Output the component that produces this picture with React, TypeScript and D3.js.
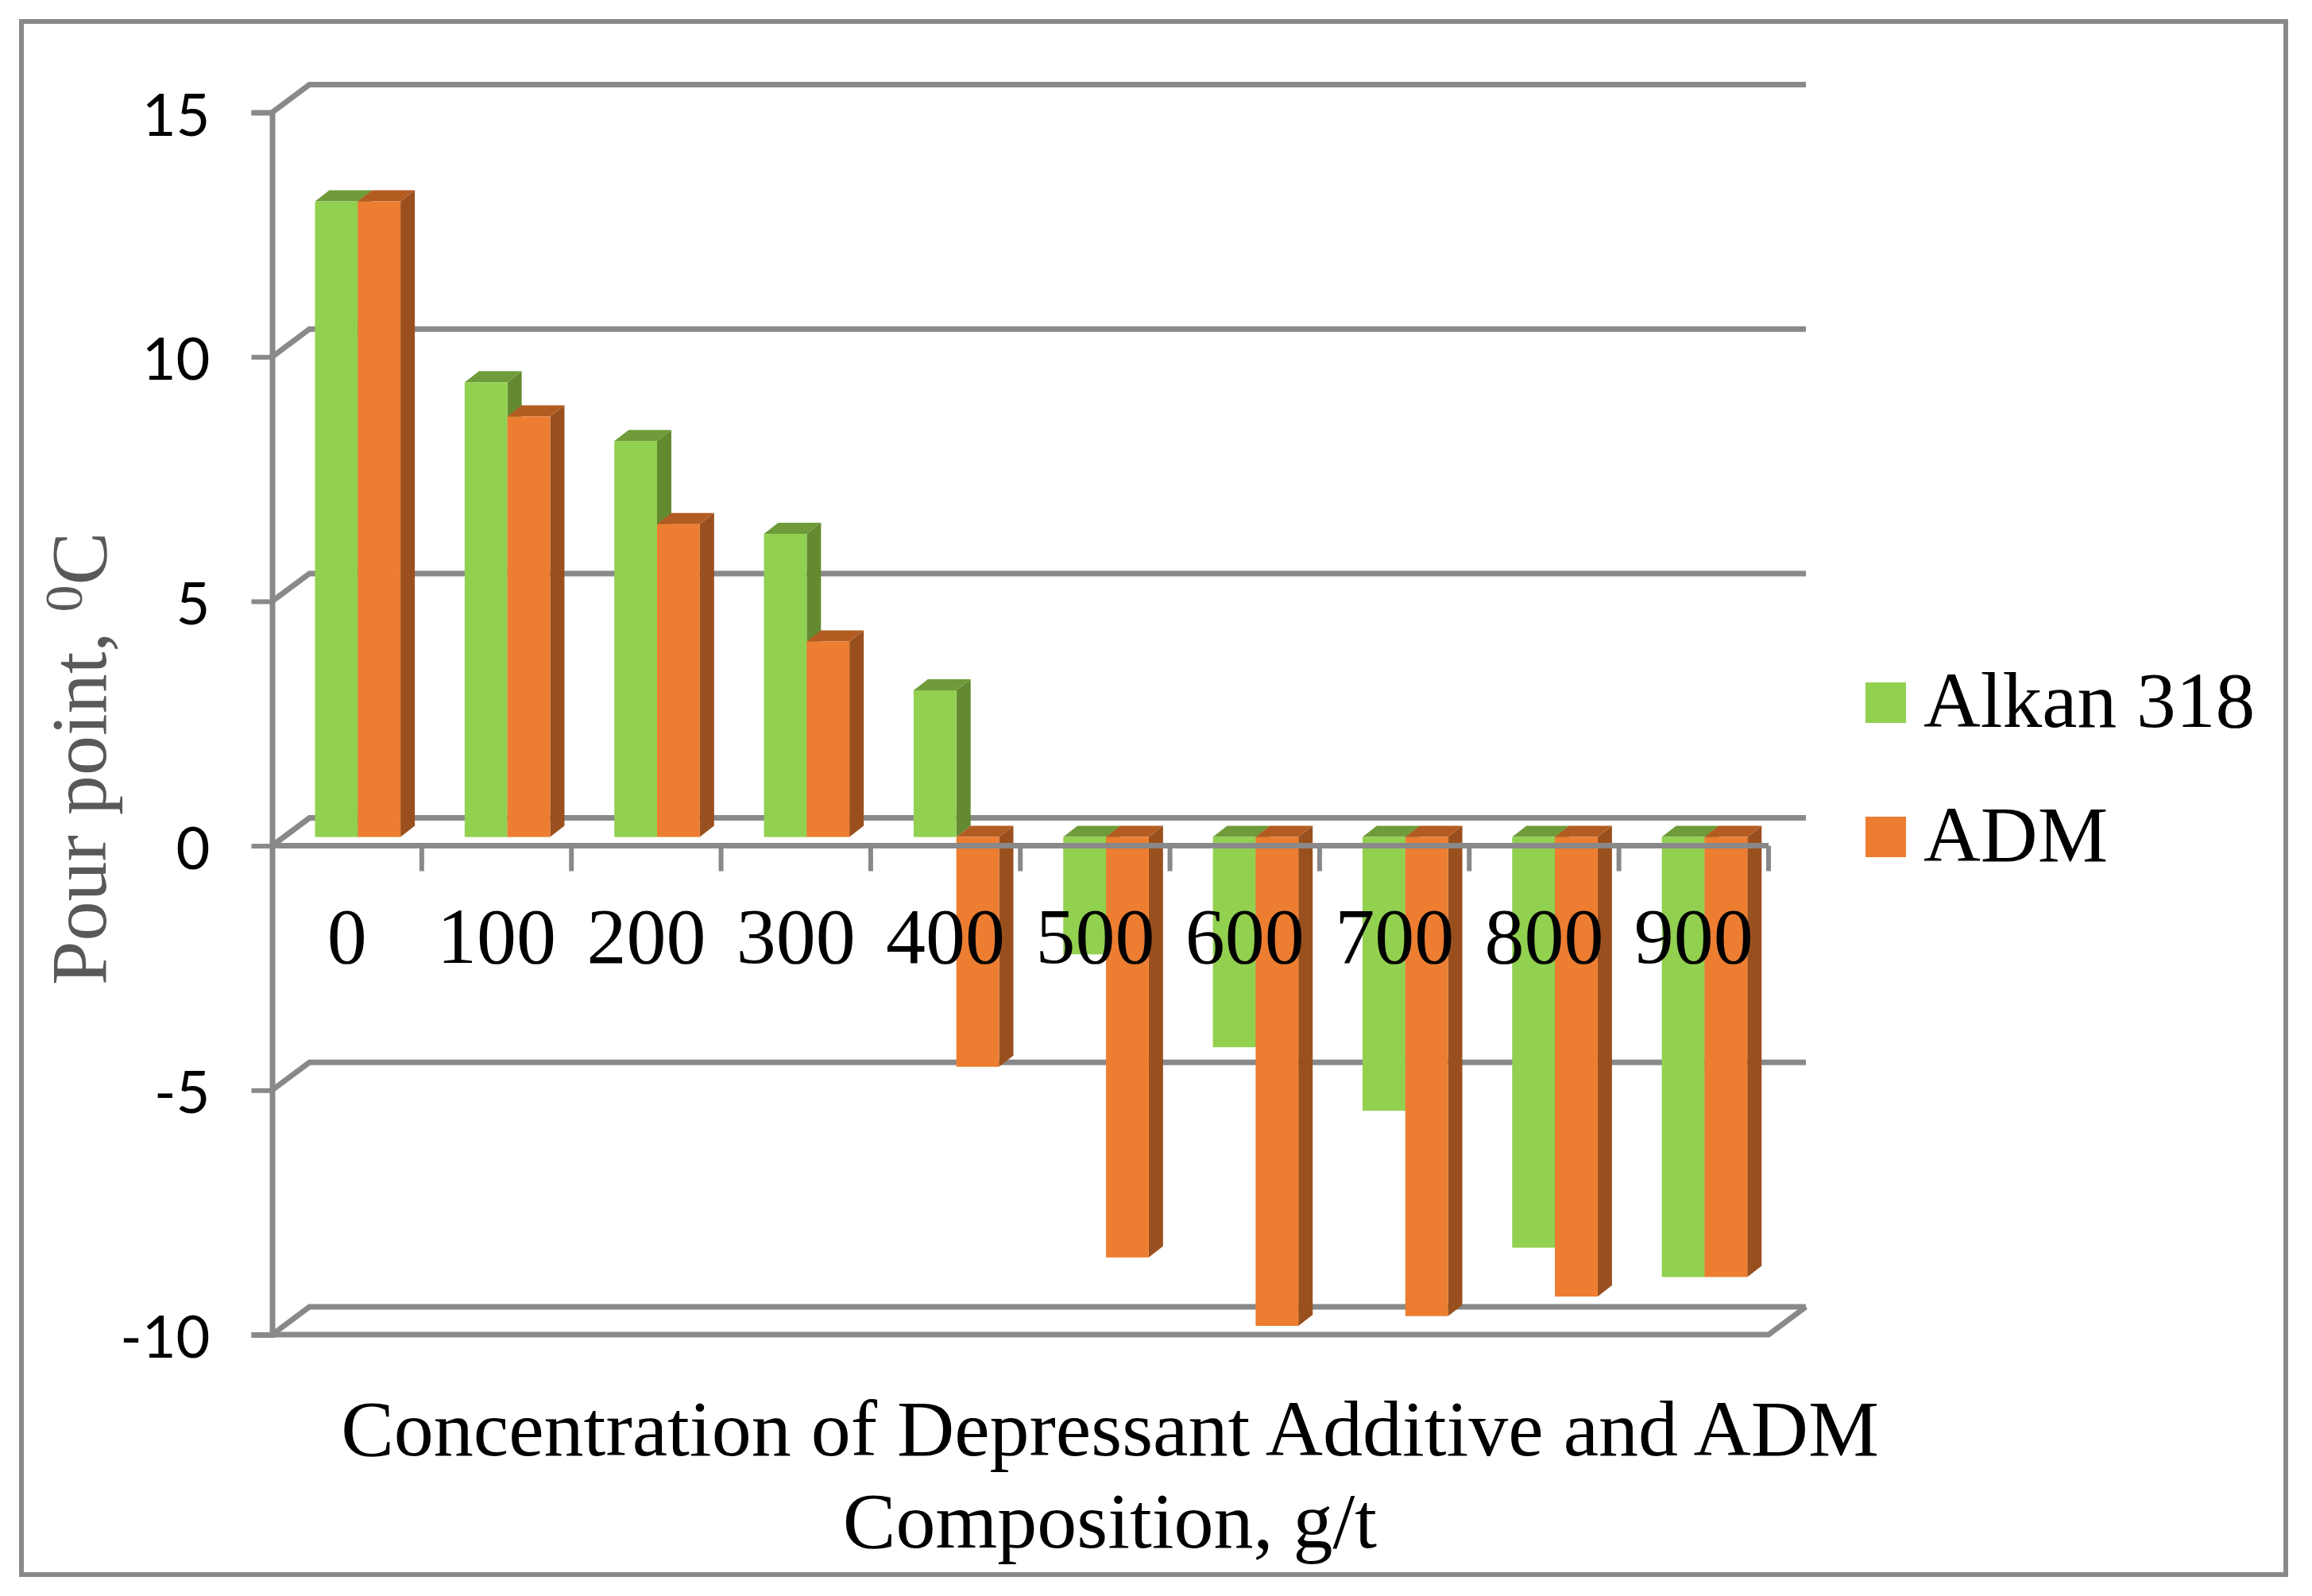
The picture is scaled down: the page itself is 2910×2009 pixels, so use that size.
import React, { useEffect, useRef } from 'react';
import * as d3 from 'd3';

const categories = ['0', '100', '200', '300', '400', '500', '600', '700', '800', '900'];
const alkan = [13, 9.3, 8.1, 6.2, 3, -2.4, -4.3, -5.6, -8.4, -9];
const adm = [13, 8.6, 6.4, 4, -4.7, -8.6, -10, -9.8, -9.4, -9];
const yTicks = [-10, -5, 0, 5, 10, 15];
const legendNames = ['Alkan 318', 'ADM'];
const xTitle = ['Concentration of Depressant Additive and ADM', 'Composition, g/t'];

const width = 2910;
const height = 2009;
const left = 342.5;
const right = 2226;
const yTop = 141.5;
const yBottom = 1680;
const depthX = 47;
const depthY = 35;
const barDepthX = 18;
const barDepthY = 14;
const barLift = 11; // bars stand a little behind the front of the floor
const barInset = 54;
const barWidth = 53.8;
const gray = '#898989';
const lineWidth = 7;
const thinWidth = 6;
const serif = '"Liberation Serif", serif';

const shades = [
	{ front: '#92D050', side: '#648A31', top: '#6F9B3A' },
	{ front: '#ED7D31', side: '#9A501E', top: '#B35C22' },
];

const App: React.FC = () => {
	const svgRef = useRef<SVGSVGElement | null>(null);

	useEffect(() => {
		if (!svgRef.current) return;
		const svg = d3.select(svgRef.current);
		svg.selectAll('*').remove();

		const x = d3.scaleBand<string>().domain(categories).range([left, right]);
		const y = d3.scaleLinear().domain([-10, 15]).range([yBottom, yTop]);
		const outline = d3.line();

		// Outer frame
		svg.append('rect')
			.attr('x', 27)
			.attr('y', 27)
			.attr('width', 2850)
			.attr('height', 1955)
			.attr('fill', 'white')
			.attr('stroke', gray)
			.attr('stroke-width', thinWidth);

		// Back wall lines with their slanted ends
		yTicks.forEach(t => {
			svg.append('path')
				.attr('d', outline([[left, y(t)], [left + depthX, y(t) - depthY], [right + depthX, y(t) - depthY]]))
				.attr('fill', 'none')
				.attr('stroke', gray)
				.attr('stroke-width', lineWidth);
		});

		// Floor edge
		svg.append('path')
			.attr('d', outline([[left, yBottom], [right, yBottom], [right + depthX, yBottom - depthY]]))
			.attr('fill', 'none')
			.attr('stroke', gray)
			.attr('stroke-width', lineWidth);

		// Left axis
		const yAxis = svg.append('g')
			.attr('transform', `translate(${left},0)`)
			.call(d3.axisLeft(y).tickValues(yTicks).tickFormat(d => String(d)).tickSize(26).tickPadding(52));
		yAxis.select('.domain')
			.attr('stroke', gray)
			.attr('stroke-width', lineWidth);
		yAxis.selectAll('.tick line')
			.attr('stroke', gray)
			.attr('stroke-width', thinWidth);
		yAxis.selectAll('.tick text')
			.attr('y', 5)
			.attr('fill', 'black')
			.attr('font-family', 'Lato, sans-serif')
			.attr('font-size', 74);

		// Bars
		categories.forEach((cat, i) => {
			[alkan[i], adm[i]].forEach((value, s) => {
				const xl = (x(cat) ?? 0) + barInset + s * barWidth;
				const xr = xl + barWidth;
				const yZero = y(0) - barLift;
				const yValue = y(value) - barLift;
				const yt = Math.min(yZero, yValue);
				const yb = Math.max(yZero, yValue);
				const g = svg.append('g');
				g.append('path')
					.attr('d', outline([[xr, yt], [xr + barDepthX, yt - barDepthY], [xr + barDepthX, yb - barDepthY], [xr, yb]]) + 'Z')
					.attr('fill', shades[s].side);
				g.append('path')
					.attr('d', outline([[xl, yt], [xl + barDepthX, yt - barDepthY], [xr + barDepthX, yt - barDepthY], [xr, yt]]) + 'Z')
					.attr('fill', shades[s].top);
				g.append('rect')
					.attr('x', xl)
					.attr('y', yt)
					.attr('width', barWidth)
					.attr('height', yb - yt)
					.attr('fill', shades[s].front);
			});
		});

		// Zero line, its ticks at the band edges, and the category labels
		const xAxis = svg.append('g')
			.attr('transform', `translate(0,${y(0)})`)
			.call(d3.axisBottom(x).tickSize(0).tickPadding(0));
		xAxis.select('.domain').remove();
		xAxis.append('line')
			.attr('x1', left)
			.attr('x2', right)
			.attr('stroke', gray)
			.attr('stroke-width', lineWidth);
		categories.forEach(cat => {
			const edge = (x(cat) ?? 0) + x.step();
			xAxis.append('line')
				.attr('x1', edge)
				.attr('x2', edge)
				.attr('y2', 32)
				.attr('stroke', gray)
				.attr('stroke-width', thinWidth);
		});
		xAxis.selectAll('.tick text')
			.attr('y', 147.5)
			.attr('dy', 0)
			.attr('fill', 'black')
			.attr('font-family', serif)
			.attr('font-size', 100);

		// Value axis title
		const yTitle = svg.append('text')
			.attr('transform', 'translate(133,1240) rotate(-90)')
			.attr('font-family', serif)
			.attr('font-size', 100)
			.attr('fill', '#595959');
		yTitle.append('tspan').text('Pour point, ');
		yTitle.append('tspan').attr('dy', -30).attr('font-size', 68).text('0');
		yTitle.append('tspan').attr('dy', 30).text('C');

		// Category axis title
		svg.selectAll('.x-title')
			.data(xTitle)
			.enter().append('text')
			.attr('class', 'x-title')
			.attr('x', 1397)
			.attr('y', (_, i) => 1832 + i * 116)
			.attr('text-anchor', 'middle')
			.attr('font-family', serif)
			.attr('font-size', 100)
			.attr('fill', 'black')
			.text(d => d);

		// Legend
		const legend = svg.selectAll('.legend-item')
			.data(legendNames)
			.enter().append('g')
			.attr('class', 'legend-item')
			.attr('transform', (_, i) => `translate(2348,${859 + i * 169})`);
		legend.append('rect')
			.attr('width', 51)
			.attr('height', 51)
			.attr('fill', (_, i) => shades[i].front);
		legend.append('text')
			.attr('x', 73)
			.attr('y', 56)
			.attr('font-family', serif)
			.attr('font-size', 99.5)
			.attr('fill', 'black')
			.text(d => d);
	}, []);

	return (
		<svg
			ref={svgRef}
			width={width}
			height={height}
			viewBox={`0 0 ${width} ${height}`}
			style={{ position: 'absolute', left: 0, top: 0, background: 'white' }}
		/>
	);
};

export default App;
